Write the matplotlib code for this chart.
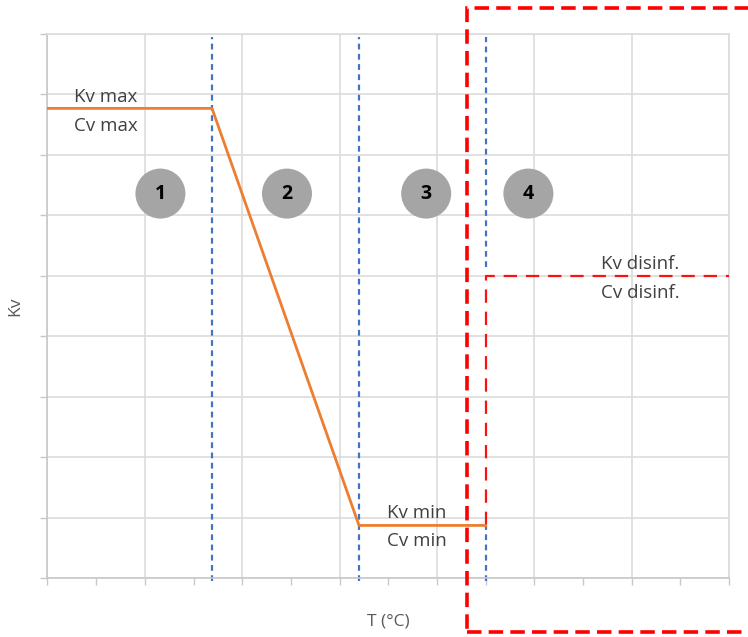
import matplotlib.pyplot as plt
from matplotlib.patches import Rectangle

plt.rcParams["font.family"] = ["Open Sans", "DejaVu Sans"]

# Kv curve (orange): T positions and Kv values
t_curve = [0.0, 1.69, 3.20, 4.50]
kv_curve = [7.77, 7.77, 0.87, 0.87]

# disinfection step (red dashed)
t_disinf = [4.50, 4.50, 7.0]
kv_disinf = [0.87, 5.0, 5.0]

# zone boundaries (blue dotted)
zone_bounds = [1.69, 3.20, 4.50]

# zone markers
zone_x = [1.16, 2.46, 3.89, 4.94]
zone_y = [6.36, 6.36, 6.36, 6.36]
zone_labels = ["1", "2", "3", "4"]

fig = plt.figure(figsize=(7.48, 6.37), dpi=100)
ax = fig.add_axes([0.0635, 0.0926, 0.911, 0.854])

ax.set_xlim(0, 7)
ax.set_ylim(0, 9)
ax.set_xticks(range(0, 8))
ax.set_xticks([i + 0.5 for i in range(7)], minor=True)
ax.set_yticks(range(0, 10))
ax.set_xticklabels([])
ax.set_yticklabels([])
ax.tick_params(which="both", length=5, width=1, color="#c8c8c8")
ax.grid(True, color="#dcdcdc", lw=1.2)
ax.set_axisbelow(True)
for s in ["top", "right"]:
    ax.spines[s].set_color("#dcdcdc")
    ax.spines[s].set_linewidth(1.2)
for s in ["left", "bottom"]:
    ax.spines[s].set_color("#c8c8c8")
    ax.spines[s].set_linewidth(1.2)

blue = dict(color="#4472C4", lw=1.6, dashes=(2.6, 2.0), clip_on=False, zorder=2)
for xb in zone_bounds:
    if xb == t_disinf[0]:
        # the red step hides the blue boundary between its two levels
        ax.plot([xb, xb], [-0.05, kv_disinf[0]], **blue)
        ax.plot([xb, xb], [kv_disinf[1] + 0.15, 8.95], **blue)
    else:
        ax.plot([xb, xb], [-0.05, 8.95], **blue)

ax.plot(t_disinf, kv_disinf, color="#ff1010", lw=1.6, dashes=(6, 4), zorder=3)
ax.plot(t_curve, kv_curve, color="#ED7D31", lw=2.0, zorder=4)

ax.scatter(zone_x, zone_y, s=1296, color="#a5a5a5", edgecolor="none", zorder=5)
for x, y, lab in zip(zone_x, zone_y, zone_labels):
    ax.text(x, y, lab, ha="center", va="center", fontsize=14,
            fontweight="bold", color="black", zorder=6)

txt = dict(ha="center", va="center", fontsize=13.5, color="#404040")
ax.text(0.60, 7.96, "Kv max", **txt)
ax.text(0.60, 7.48, "Cv max", **txt)
ax.text(3.79, 1.07, "Kv min", **txt)
ax.text(3.79, 0.62, "Cv min", **txt)
ax.text(6.09, 5.19, "Kv disinf.", **txt)
ax.text(6.09, 4.72, "Cv disinf.", **txt)

ax.set_xlabel("T (°C)", fontsize=12.5, color="#595959", labelpad=17)
ax.set_ylabel("Kv", fontsize=12.5, color="#595959", labelpad=9)

# highlighted region around zone 4
fig.add_artist(Rectangle((467 / 748, 1 - 632 / 637), 300 / 748, 624 / 637,
                         transform=fig.transFigure, fill=False,
                         edgecolor="#ff0000", lw=2.6, linestyle=(0, (4, 2)),
                         clip_on=False))

plt.savefig("out.png", dpi=100)
